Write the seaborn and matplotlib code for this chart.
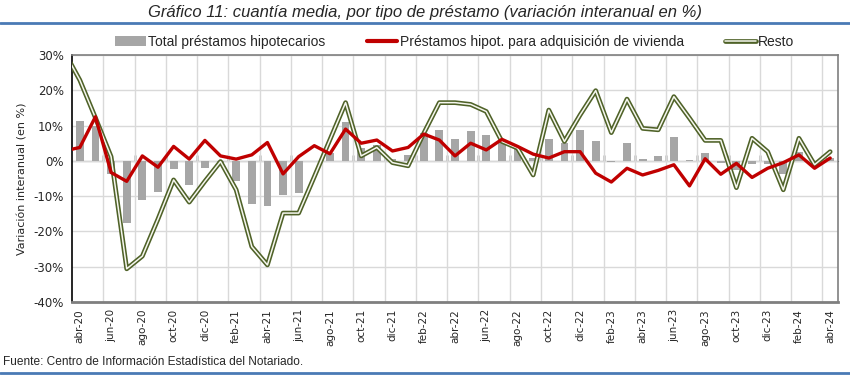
import numpy as np
import pandas as pd
import matplotlib
matplotlib.use('Agg')
import matplotlib.pyplot as plt
import matplotlib.patheffects as pe
from matplotlib.patches import Patch
from matplotlib.lines import Line2D
import seaborn as sns

sns.set_style('white')
plt.rcParams['font.family'] = ['DejaVu Sans']
ESTRECHA = ['Liberation Sans', 'DejaVu Sans']

# datos: abr-20 ... abr-24 (49 meses)
total = [11.3, 9.9, -3.7, -17.6, -11.0, -8.8, -2.3, -6.8, -2.1, -0.5, -5.6, -12.1,
         -12.7, -9.8, -9.0, 0.0, 2.2, 11.1, 3.6, 4.5, 0.6, 1.7, 7.8, 8.7,
         6.2, 8.5, 7.3, 5.5, 3.6, 0.7, 6.2, 5.0, 8.8, 5.7, -0.4, 5.2,
         0.5, 1.5, 6.8, 0.2, 2.2, -0.5, -2.7, -0.9, -0.8, -3.6, 2.5, -0.8, 0.9]
# las lineas incluyen mar-20 como primer punto (se recorta en el borde)
vivienda = [2.8, 3.8, 12.5, -3.3, -5.8, 1.4, -1.8, 4.1, 0.5, 5.8, 1.4, 0.5, 1.7,
            5.2, -3.7, 1.2, 4.3, 2.0, 9.0, 5.0, 5.9, 2.8, 3.8, 7.6, 5.9,
            1.4, 5.0, 3.1, 6.1, 4.1, 1.9, 0.8, 2.6, 2.6, -3.5, -6.0, -2.1,
            -4.0, -2.7, -1.1, -7.1, 0.6, -3.8, -0.7, -4.7, -2.1, -0.5, 1.7, -2.1, 0.8]
resto = [31.0, 22.9, 12.2, 1.2, -30.6, -27.0, -16.5, -5.4, -11.7, -5.8, -0.2, -8.2, -24.3,
         -29.5, -14.8, -14.8, -4.5, 6.0, 16.5, 1.4, 3.8, -0.5, -1.4, 7.8, 16.5,
         16.5, 16.0, 14.0, 5.5, 3.6, -4.0, 14.4, 5.5, 13.0, 19.9, 8.0, 17.5,
         9.2, 8.8, 18.2, 12.1, 5.8, 5.8, -7.6, 6.4, 2.6, -8.2, 6.4, -1.1, 2.6]
etiquetas = ['abr-20', 'jun-20', 'ago-20', 'oct-20', 'dic-20', 'feb-21', 'abr-21', 'jun-21',
             'ago-21', 'oct-21', 'dic-21', 'feb-22', 'abr-22', 'jun-22', 'ago-22', 'oct-22',
             'dic-22', 'feb-23', 'abr-23', 'jun-23', 'ago-23', 'oct-23', 'dic-23', 'feb-24',
             'abr-24']

meses = np.arange(len(total))
meses_lineas = np.arange(len(vivienda)) - 1

GRIS = '#a6a6a6'
ROJO = '#c00000'
VERDE = '#4f6228'
AZUL = '#4a7ab5'

fig = plt.figure(figsize=(8.5, 3.75), dpi=100)
ax = fig.add_axes([0.0847, 0.1947, 0.9012, 0.6586])

sns.barplot(x=meses, y=total, native_scale=True, color=GRIS, width=0.5,
            saturation=1, linewidth=0, ax=ax, zorder=2)
sns.lineplot(x=meses_lineas, y=resto, color='#f6f7ef', lw=1.1, ax=ax, zorder=3,
             path_effects=[pe.Stroke(linewidth=3.4, foreground=VERDE), pe.Normal()])
sns.lineplot(x=meses_lineas, y=vivienda, color=ROJO, lw=2.4, ax=ax, zorder=4)

ax.set_xlim(-0.5, len(total) - 0.5)
ax.set_ylim(-40, 30)

# rejilla
ax.set_yticks(np.arange(-40, 31, 10))
ax.set_yticklabels([f'{v}%' for v in range(-40, 31, 10)], fontsize=8.5)
ax.set_xticks(np.arange(1.5, len(total) - 1, 2), minor=True)
ax.set_xticks(meses[::2])
ax.set_xticklabels(etiquetas, rotation=90, fontsize=7.5)
ax.tick_params(axis='x', which='both', length=0, pad=5)
ax.tick_params(axis='y', length=4, width=1, color='black', direction='out', pad=2)
ax.grid(True, axis='y', color='#d9d9d9', lw=1, zorder=0)
ax.grid(True, axis='x', which='minor', color='#d9d9d9', lw=1, zorder=0)
ax.set_axisbelow(True)
ax.set_xlabel('')
ax.set_ylabel('Variación interanual (en %)', fontsize=8, labelpad=4)

for s in ['top', 'right', 'bottom']:
    ax.spines[s].set_color('#7f7f7f')
    ax.spines[s].set_linewidth(1.2)
ax.spines['bottom'].set_linewidth(2)
ax.spines['left'].set_color('black')
ax.spines['left'].set_linewidth(1.2)

# eje de categorias en el cero
eje0 = ax.secondary_xaxis(40 / 70)
eje0.spines['bottom'].set_color('black')
eje0.spines['bottom'].set_linewidth(1.2)
eje0.set_xticks(np.arange(1.5, len(total) - 1, 2))
eje0.set_xticklabels([])
eje0.tick_params(length=4, width=1, color='black', direction='out')

# leyenda
handles = [Patch(facecolor=GRIS, edgecolor='none'),
           Line2D([], [], color=ROJO, lw=3),
           Line2D([], [], color='#f6f7ef', lw=1.1,
                  path_effects=[pe.Stroke(linewidth=3.4, foreground=VERDE), pe.Normal()])]
nombres = ['Total préstamos hipotecarios',
           'Préstamos hipot. para adquisición de vivienda', 'Resto']
fig.legend(handles, nombres, loc='center', bbox_to_anchor=(0.535, 0.888), ncol=3,
           frameon=False, handlelength=2.2, handletextpad=0.15, columnspacing=3.0,
           prop={'family': ESTRECHA, 'size': 10})

# titulo, fuente y lineas azules
fig.text(0.5, 0.966, 'Gráfico 11: cuantía media, por tipo de préstamo (variación interanual en %)',
         ha='center', va='center', fontsize=12, style='italic', family=ESTRECHA)
fig.text(0.004, 0.035, 'Fuente: Centro de Información Estadística del Notariado.',
         ha='left', va='center', fontsize=8.6, family=ESTRECHA)
fig.add_artist(Line2D([0, 1], [0.938, 0.938], color=AZUL, lw=2, transform=fig.transFigure))
fig.add_artist(Line2D([0, 1], [0.006, 0.006], color=AZUL, lw=2, transform=fig.transFigure))

fig.savefig('out.png', dpi=100)
